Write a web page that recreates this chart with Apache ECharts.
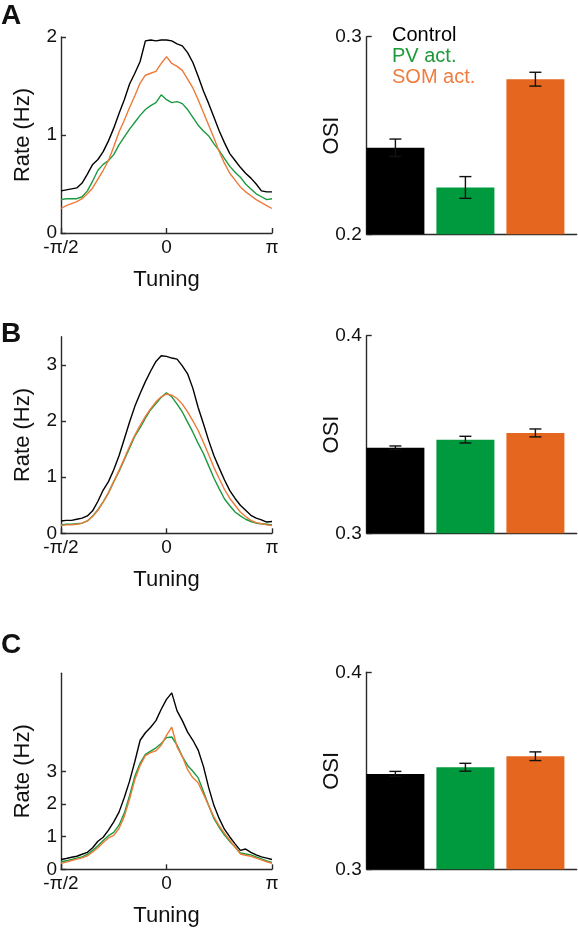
<!DOCTYPE html>
<html><head><meta charset="utf-8">
<script src="https://cdn.jsdelivr.net/npm/echarts@6/dist/echarts.min.js"></script>
<style>html,body{margin:0;padding:0;background:#fff}#c{width:578px;height:930px}</style>
</head><body><div id="c"></div>
<script>
// ---- data ----
const tuningX = [-1,-0.95,-0.9,-0.85,-0.8,-0.75,-0.7,-0.65,-0.6,-0.55,-0.5,-0.45,-0.4,-0.35,-0.3,-0.25,-0.2,-0.15,-0.1,-0.05,0,0.05,0.1,0.15,0.2,0.25,0.3,0.35,0.4,0.45,0.5,0.55,0.6,0.65,0.7,0.75,0.8,0.85,0.9,0.95,1];
const tuningTickLabels = {'-1':'-π/2','0':'0','1':'π'};
const conditions = ['Control','PV act.','SOM act.'];

const A_control = [0.43,0.44,0.45,0.46,0.51,0.60,0.70,0.75,0.83,0.94,1.07,1.22,1.36,1.52,1.63,1.75,1.96,1.97,1.96,1.97,1.97,1.96,1.93,1.91,1.84,1.74,1.60,1.45,1.32,1.18,1.04,0.92,0.81,0.74,0.67,0.61,0.56,0.50,0.43,0.42,0.42];
const A_pv      = [0.34,0.35,0.35,0.35,0.37,0.43,0.53,0.64,0.70,0.74,0.80,0.90,0.98,1.06,1.13,1.20,1.26,1.30,1.33,1.41,1.36,1.33,1.34,1.32,1.26,1.18,1.10,1.04,0.99,0.91,0.84,0.76,0.68,0.62,0.57,0.50,0.45,0.40,0.37,0.34,0.35];
const A_som     = [0.25,0.28,0.30,0.32,0.35,0.40,0.46,0.55,0.64,0.74,0.88,1.03,1.15,1.28,1.40,1.53,1.61,1.63,1.65,1.73,1.80,1.73,1.70,1.66,1.57,1.48,1.36,1.23,1.10,0.97,0.83,0.71,0.61,0.54,0.47,0.42,0.38,0.34,0.31,0.28,0.25];

const B_control = [0.22,0.23,0.23,0.25,0.27,0.31,0.40,0.57,0.77,0.92,1.13,1.38,1.68,1.98,2.26,2.49,2.70,2.89,3.06,3.16,3.15,3.12,3.10,2.98,2.84,2.58,2.24,1.95,1.65,1.38,1.16,0.95,0.76,0.62,0.50,0.41,0.32,0.27,0.24,0.20,0.21];
const B_pv      = [0.15,0.16,0.16,0.17,0.18,0.22,0.31,0.42,0.56,0.72,0.92,1.10,1.31,1.52,1.73,1.88,2.05,2.20,2.31,2.42,2.50,2.43,2.30,2.16,1.98,1.80,1.60,1.42,1.20,0.98,0.79,0.61,0.49,0.38,0.31,0.25,0.21,0.18,0.17,0.16,0.15];
const B_som     = [0.14,0.15,0.15,0.16,0.18,0.22,0.30,0.41,0.56,0.72,0.92,1.12,1.33,1.55,1.75,1.92,2.08,2.22,2.34,2.43,2.48,2.46,2.40,2.30,2.16,2.00,1.83,1.62,1.40,1.17,0.97,0.78,0.62,0.50,0.38,0.30,0.23,0.19,0.17,0.15,0.14];

const C_control = [0.30,0.33,0.37,0.40,0.46,0.52,0.66,0.86,0.98,1.20,1.45,1.75,2.20,2.70,3.30,3.95,4.18,4.35,4.55,4.90,5.20,5.40,4.85,4.55,4.20,3.95,3.65,3.15,2.50,1.95,1.55,1.22,0.99,0.78,0.58,0.62,0.52,0.44,0.38,0.34,0.30];
const C_pv      = [0.23,0.26,0.30,0.34,0.38,0.46,0.58,0.72,0.88,1.03,1.13,1.35,1.72,2.25,2.85,3.25,3.52,3.62,3.72,3.85,4.03,4.05,3.80,3.45,3.18,3.00,2.80,2.38,1.95,1.55,1.28,1.05,0.85,0.68,0.50,0.47,0.44,0.38,0.32,0.26,0.21];
const C_som     = [0.18,0.22,0.27,0.31,0.35,0.41,0.53,0.66,0.82,0.96,1.04,1.25,1.62,2.15,2.75,3.18,3.48,3.57,3.63,3.80,4.10,4.35,3.75,3.45,3.05,2.80,2.65,2.30,1.95,1.60,1.33,1.10,0.89,0.68,0.47,0.43,0.40,0.34,0.29,0.23,0.18];

const A_osi = [0.2438, 0.2237, 0.2785];
const A_err = [0.0044, 0.0055, 0.0035];
const B_osi = [0.3433, 0.3474, 0.3508];
const B_err = [0.0009, 0.0017, 0.0020];
const C_osi = [0.3484, 0.3518, 0.3574];
const C_err = [0.0013, 0.0020, 0.0022];

const rateMax = [2, 3.5, 6];
const rateTicks = [[0,1,2],[0,1,2,3],[0,1,2,3]];
const osiRange = [[0.2,0.3],[0.3,0.4],[0.3,0.4]];
const panelLetters = ['A','B','C'];

// ---- style ----
const FONT = 'Liberation Sans, Arial, Helvetica, sans-serif';
const AX = '#2a2a2a';
const colLine = ['#000000', '#1a9a40', '#ee7a38'];
const colBar = ['#000000', '#009a3e', '#e5661e'];
const colText = ['#000000', '#1e9a3a', '#ef7d40'];

const tuningSets = [[A_control,A_pv,A_som],[B_control,B_pv,B_som],[C_control,C_pv,C_som]];
const osiSets = [[A_osi,A_err],[B_osi,B_err],[C_osi,C_err]];

const leftGrids = [
  {left:61, top:37, width:211, height:196},
  {left:61, top:336.7, width:211, height:196.6},
  {left:61, top:673.3, width:211, height:196}
];
const rightGrids = [
  {left:366.7, top:36.7, width:210, height:197.6},
  {left:366.7, top:335.7, width:210, height:197.6},
  {left:366.7, top:672.3, width:210, height:197}
];
const letterY = [16.5, 334, 645];

const grid = [], xAxis = [], yAxis = [], series = [], graphic = [];
const axisLine = {show:true, onZero:false, lineStyle:{color:AX, width:1.4}};
const nameStyle = {fontSize:22, color:'#111', fontFamily:FONT};
for (let p = 0; p < 3; p++) {
  // left: tuning curves
  const gl = grid.length;
  grid.push(leftGrids[p]);
  xAxis.push({type:'value', gridIndex:gl, min:-1, max:1, interval:1,
    axisLine, axisTick:{show:true, inside:true, length:5, lineStyle:{color:AX, width:1.4}},
    axisLabel:{formatter:v=>tuningTickLabels[String(v)], fontSize:19, color:'#111', margin:5, fontFamily:FONT},
    splitLine:{show:false},
    name:'Tuning', nameLocation:'middle', nameGap:36, nameMoveOverlap:false, nameTextStyle:nameStyle});
  yAxis.push({type:'value', gridIndex:gl, min:0, max:rateMax[p], interval:1,
    axisLine, axisTick:{show:true, inside:true, length:5, customValues:rateTicks[p], lineStyle:{color:AX, width:1.4}},
    axisLabel:{customValues:rateTicks[p], formatter:v=>String(v), fontSize:19, color:'#111', margin:4, fontFamily:FONT},
    splitLine:{show:false},
    name:'Rate (Hz)', nameLocation:'middle', nameGap:27, nameMoveOverlap:false, nameTextStyle:nameStyle});
  const sets = tuningSets[p];
  [1,2,0].forEach(k => {
    series.push({type:'line', xAxisIndex:gl, yAxisIndex:gl, name:conditions[k],
      data: tuningX.map((x,i)=>[x, sets[k][i]]),
      showSymbol:false, symbol:'none', lineStyle:{color:colLine[k], width:1.4}, z:k===0?5:3});
  });

  // right: OSI bars
  const gr = grid.length;
  grid.push(rightGrids[p]);
  xAxis.push({type:'value', gridIndex:gr, min:-0.41, max:2.59,
    axisLine, axisTick:{show:false}, axisLabel:{show:false}, splitLine:{show:false}});
  yAxis.push({type:'value', gridIndex:gr, min:osiRange[p][0], max:osiRange[p][1], interval:0.1,
    axisLine, axisTick:{show:true, inside:true, length:5, customValues:osiRange[p], lineStyle:{color:AX, width:1.4}},
    axisLabel:{customValues:osiRange[p], formatter:v=>v.toFixed(1), fontSize:19, color:'#111', margin:5, fontFamily:FONT},
    splitLine:{show:false},
    name:'OSI', nameLocation:'middle', nameGap:24, nameMoveOverlap:false, nameTextStyle:nameStyle});
  const [vals, errs] = osiSets[p];
  series.push({type:'bar', xAxisIndex:gr, yAxisIndex:gr, barWidth:58,
    data: vals.map((v,i)=>({value:[i, v], itemStyle:{color:colBar[i]}})), z:2});
  series.push({type:'custom', xAxisIndex:gr, yAxisIndex:gr, z:6,
    data: vals.map((v,i)=>[i, v, errs[i]]),
    renderItem:(params, api)=>{
      const x = api.value(0), y = api.value(1), e = api.value(2);
      const t = api.coord([x, y+e]), b = api.coord([x, y-e]);
      const hw = 6, st = {stroke:'#111', lineWidth:1.4};
      return {type:'group', children:[
        {type:'line', shape:{x1:t[0], y1:t[1], x2:b[0], y2:b[1]}, style:st},
        {type:'line', shape:{x1:t[0]-hw, y1:t[1], x2:t[0]+hw, y2:t[1]}, style:st},
        {type:'line', shape:{x1:b[0]-hw, y1:b[1], x2:b[0]+hw, y2:b[1]}, style:st}
      ]};
    }});

  graphic.push({type:'text', left:1, top:letterY[p]-14, style:{text:panelLetters[p], font:'bold 28px '+FONT, fill:'#111'}});
}
// legend text (panel A)
conditions.forEach((c,i)=>{
  graphic.push({type:'text', left:392, top:[25, 46.5, 67][i], style:{text:c, font:'20px '+FONT, fill:colText[i]}});
});

const chart = echarts.init(document.getElementById('c'), null, {renderer:'canvas'});
chart.setOption({animation:false, backgroundColor:'#fff', textStyle:{fontFamily:FONT},
  grid, xAxis, yAxis, series, graphic});
</script></body></html>
